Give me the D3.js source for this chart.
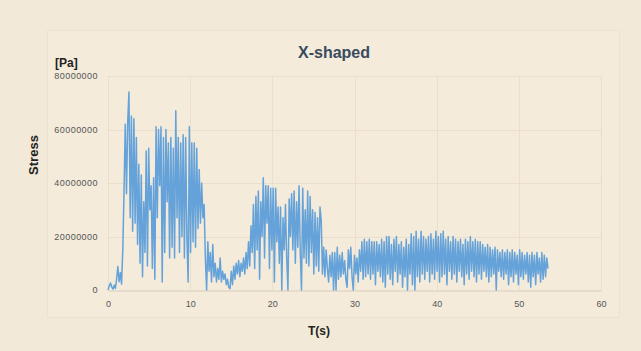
<!DOCTYPE html>
<html>
<head>
<meta charset="utf-8">
<script src="https://cdn.jsdelivr.net/npm/d3@7"></script>
<style>
  html, body { margin: 0; padding: 0; background: #f3e9d8; }
  svg { display: block; }
</style>
</head>
<body>
<svg id="chart" width="641" height="351"></svg>
<script>
// Sampling step of the stress record, in seconds
const timeStep = 0.15;

// Stress samples in MPa, one row per 3 s of record
const stressMPa = [
  0, 1.5, 2.6, 1.2, 0.3, 1.8, 0.6, 4.2, 8.8, 3.1, 6.5, 2.2, 15, 37, 62, 36, 63, 74, 27, 65,
  22, 64, 25, 57, 17, 47, 10, 43, 5, 33, 14, 52, 9, 53, 30, 39, 8, 42, 4, 61,
  27, 60, 39, 61, 3, 57, 14, 60, 33, 55, 12, 57, 16, 53, 12, 67, 27, 57, 14, 55,
  20, 58, 12, 57, 20, 3, 61, 14, 55, 18, 55, 16, 53, 23, 45, 25, 40, 27, 32, 12,
  0, 18, 7, 14, 3, 17, 5, 10, 3, 8, 4, 12, 3, 7, 4, 6, 2, 4, 1, 0.5,
  7, 2, 9, 4, 10, 6, 11, 5, 10, 7, 12, 6, 14, 8, 18, 9, 24, 14, 32, 8,
  35, 15, 37, 4, 33, 20, 42, 12, 39, 25, 39, 8, 38, 15, 38, 3, 38, 18, 31, 10,
  31, 0, 27, 15, 32, 12, 0, 34, 20, 36, 15, 37, 10, 33, 16, 39, 14, 0, 38, 12,
  30, 10, 37, 9, 35, 14, 30, 6, 29, 9, 27, 7, 31, 26, 6, 16, 5, 15, 8, 3,
  13, 5, 14, 0, 14, 0, 16, 4, 13, 5, 14, 6, 11, 4, 1, 15, 8, 16, 5, 0,
  13, 6, 12, 3, 15, 7, 18, 4, 19, 5, 18, 6, 19, 4, 18, 6, 18, 2, 18, 7,
  17, 5, 19, 3, 18, 1, 20, 6, 20, 4, 17, 2, 19, 7, 20, 3, 17, 6, 18, 1,
  16, 5, 19, 0, 17, 6, 21, 2, 20, 0, 22, 5, 19, 3, 22, 6, 20, 4, 19, 7,
  20, 3, 21, 6, 19, 4, 22, 7, 20, 3, 21, 5, 22, 6, 19, 2, 20, 7, 18, 4,
  20, 6, 19, 3, 18, 7, 19, 5, 17, 2, 19, 6, 18, 4, 20, 7, 18, 5, 19, 3,
  18, 6, 18, 4, 17, 7, 16, 5, 17, 3, 16, 5, 15, 6, 16, 0, 15, 7, 14, 5,
  15, 4, 14, 6, 15, 2, 14, 5, 15, 3, 14, 6, 13, 2, 15, 5, 14, 4, 13, 6,
  14, 3, 13, 1, 14, 5, 13, 2, 14, 6, 12, 3, 14, 4, 13, 5, 12, 8
];

const xTicks = [0, 10, 20, 30, 40, 50, 60];
const yTicks = [0, 20000000, 40000000, 60000000, 80000000];

const titleText = "X-shaped";
const xTitle = "T(s)";
const yTitle = "Stress";
const yUnit = "[Pa]";

const data = stressMPa.map((v, i) => ({ t: i * timeStep, pa: v * 1e6 }));

const svg = d3.select("#chart");
const plot = { left: 108, right: 601, top: 76, bottom: 290 };

const x = d3.scaleLinear().domain([0, 60]).range([plot.left, plot.right]);
const y = d3.scaleLinear().domain([0, 80000000]).range([plot.bottom, plot.top]);

// chart frame
svg.append("rect")
  .attr("x", 47.5).attr("y", 30.5).attr("width", 572).attr("height", 287)
  .attr("fill", "#f4ebdb").attr("stroke", "#ebe2d2").attr("stroke-width", 1);

// gridlines
svg.append("g")
  .selectAll("line.h")
  .data(yTicks.slice(1))
  .join("line")
  .attr("x1", plot.left).attr("x2", plot.right)
  .attr("y1", d => Math.round(y(d)) + 0.5).attr("y2", d => Math.round(y(d)) + 0.5)
  .attr("stroke", "#eadfcd").attr("stroke-width", 1);

svg.append("g")
  .selectAll("line.v")
  .data(xTicks)
  .join("line")
  .attr("x1", d => Math.round(x(d)) + 0.5).attr("x2", d => Math.round(x(d)) + 0.5)
  .attr("y1", plot.top).attr("y2", plot.bottom)
  .attr("stroke", "#eadfcd").attr("stroke-width", 1);

// x axis
const xAxis = svg.append("g")
  .attr("transform", `translate(0,${plot.bottom + 0.5})`)
  .call(d3.axisBottom(x).tickValues(xTicks).tickSize(0).tickPadding(10));
xAxis.select(".domain").attr("stroke", "#d6cdbd");
xAxis.selectAll("text")
  .attr("fill", "#555")
  .style("font-family", "'Liberation Sans', Arial, sans-serif")
  .style("font-size", "9px");

// y axis
const yAxis = svg.append("g")
  .attr("transform", `translate(${plot.left - 10},0)`)
  .call(d3.axisLeft(y).tickValues(yTicks).tickSize(0).tickPadding(0)
    .tickFormat(d3.format("d")));
yAxis.select(".domain").remove();
yAxis.selectAll("text")
  .attr("fill", "#555")
  .style("font-family", "'Liberation Sans', Arial, sans-serif")
  .style("font-size", "9px")
  .style("letter-spacing", "0.45px");

// stress trace
const line = d3.line()
  .x(d => x(d.t))
  .y(d => y(d.pa));

svg.append("path")
  .datum(data)
  .attr("fill", "none")
  .attr("stroke", "#64a2d9")
  .attr("stroke-width", 1.5)
  .attr("stroke-linejoin", "round")
  .attr("d", line);

// titles
svg.append("text")
  .attr("x", 334).attr("y", 58)
  .attr("text-anchor", "middle")
  .attr("fill", "#3a4a5e")
  .style("font-family", "'Liberation Sans', Arial, sans-serif")
  .style("font-weight", "bold")
  .style("font-size", "16px")
  .text(titleText);

svg.append("text")
  .attr("x", 55).attr("y", 67)
  .attr("fill", "#222")
  .style("font-family", "'Liberation Sans', Arial, sans-serif")
  .style("font-weight", "bold")
  .style("font-size", "12px")
  .text(yUnit);

svg.append("text")
  .attr("transform", "translate(38,155) rotate(-90)")
  .attr("text-anchor", "middle")
  .attr("fill", "#222")
  .style("font-family", "'Liberation Sans', Arial, sans-serif")
  .style("font-weight", "bold")
  .style("font-size", "13px")
  .text(yTitle);

svg.append("text")
  .attr("x", 319).attr("y", 335)
  .attr("text-anchor", "middle")
  .attr("fill", "#222")
  .style("font-family", "'Liberation Sans', Arial, sans-serif")
  .style("font-weight", "bold")
  .style("font-size", "12px")
  .text(xTitle);
</script>
</body>
</html>
